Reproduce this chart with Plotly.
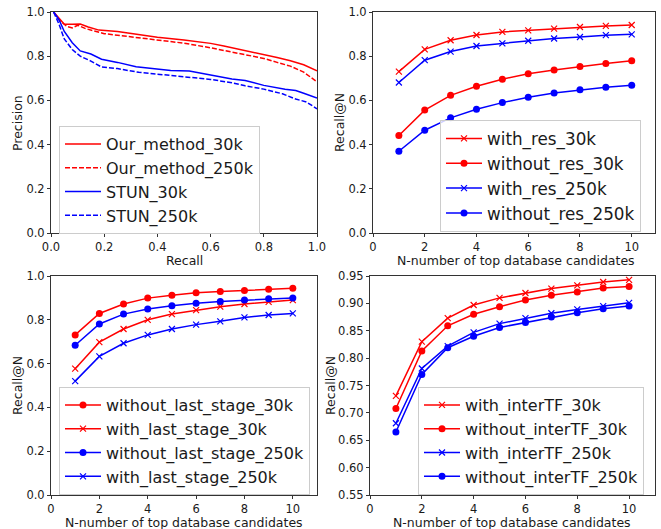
import plotly.graph_objects as go

# ---------------- data ----------------
# Panel 1: precision-recall curves
pr_ours30_r = [0.01, 0.03, 0.05, 0.08, 0.11, 0.14, 0.18, 0.25, 0.30, 0.35, 0.40, 0.50, 0.60, 0.65, 0.72, 0.80, 0.85, 0.90, 0.95, 1.00]
pr_ours30_p = [1.00, 0.97, 0.945, 0.945, 0.946, 0.932, 0.918, 0.912, 0.904, 0.893, 0.886, 0.873, 0.858, 0.846, 0.829, 0.809, 0.794, 0.779, 0.761, 0.734]
pr_ours250_r = [0.01, 0.03, 0.06, 0.08, 0.10, 0.13, 0.20, 0.30, 0.40, 0.50, 0.60, 0.70, 0.80, 0.85, 0.90, 0.95, 1.00]
pr_ours250_p = [1.00, 0.965, 0.934, 0.928, 0.940, 0.925, 0.902, 0.888, 0.871, 0.859, 0.838, 0.815, 0.790, 0.772, 0.755, 0.728, 0.684]
pr_stun30_r = [0.01, 0.03, 0.05, 0.08, 0.11, 0.15, 0.19, 0.25, 0.32, 0.40, 0.45, 0.52, 0.60, 0.68, 0.73, 0.80, 0.88, 0.92, 0.95, 1.00]
pr_stun30_p = [1.00, 0.965, 0.912, 0.861, 0.824, 0.810, 0.786, 0.772, 0.752, 0.743, 0.735, 0.733, 0.714, 0.697, 0.690, 0.668, 0.650, 0.645, 0.632, 0.611]
pr_stun250_r = [0.01, 0.03, 0.05, 0.08, 0.11, 0.15, 0.19, 0.25, 0.33, 0.40, 0.45, 0.52, 0.60, 0.68, 0.73, 0.80, 0.87, 0.92, 0.96, 1.00]
pr_stun250_p = [1.00, 0.945, 0.878, 0.830, 0.800, 0.778, 0.751, 0.744, 0.727, 0.719, 0.714, 0.705, 0.695, 0.680, 0.666, 0.651, 0.630, 0.606, 0.593, 0.562]

# Recall@N panels
N = [1, 2, 3, 4, 5, 6, 7, 8, 9, 10]

with_res_30k = [0.730, 0.831, 0.872, 0.896, 0.910, 0.917, 0.925, 0.932, 0.937, 0.941]
without_res_30k = [0.441, 0.556, 0.623, 0.664, 0.696, 0.721, 0.738, 0.753, 0.767, 0.779]
with_res_250k = [0.681, 0.782, 0.821, 0.846, 0.858, 0.870, 0.880, 0.887, 0.895, 0.899]
without_res_250k = [0.370, 0.465, 0.521, 0.560, 0.590, 0.614, 0.633, 0.648, 0.660, 0.669]

without_last_30k = [0.731, 0.829, 0.872, 0.899, 0.912, 0.923, 0.929, 0.934, 0.940, 0.944]
with_last_30k = [0.577, 0.698, 0.758, 0.800, 0.826, 0.844, 0.860, 0.872, 0.882, 0.890]
without_last_250k = [0.684, 0.781, 0.826, 0.849, 0.864, 0.876, 0.884, 0.890, 0.896, 0.900]
with_last_250k = [0.520, 0.633, 0.693, 0.731, 0.758, 0.778, 0.793, 0.811, 0.822, 0.829]

with_itf_30k = [0.731, 0.830, 0.873, 0.897, 0.910, 0.919, 0.927, 0.933, 0.939, 0.943]
without_itf_30k = [0.708, 0.813, 0.859, 0.880, 0.894, 0.906, 0.915, 0.921, 0.928, 0.931]
with_itf_250k = [0.681, 0.781, 0.822, 0.847, 0.863, 0.873, 0.882, 0.889, 0.895, 0.901]
without_itf_250k = [0.665, 0.770, 0.819, 0.840, 0.856, 0.865, 0.875, 0.883, 0.890, 0.895]

xlab_pr = "Recall"
ylab_pr = "Precision"
xlab_n = "N-number of top database candidates"
ylab_n = "Recall@N"

RED = "#ff0000"
BLUE = "#0000ff"
FONT = "DejaVu Sans"
TXT = "#1a1a1a"

W, H = 661, 529

def fx(p):
    return p / W

def fy(p):
    return 1 - p / H

fig = go.Figure()

def line(x, y, name, color, dash="solid", marker=None, xa="x", ya="y", legend="legend"):
    kw = dict(x=x, y=y, name=name, xaxis=xa, yaxis=ya, legend=legend,
              line=dict(color=color, width=1.5, dash=dash))
    if marker is None:
        kw["mode"] = "lines"
    elif marker == "x":
        kw["mode"] = "lines+markers"
        kw["marker"] = dict(symbol="x-thin", size=6, line=dict(color=color, width=1.2), color=color)
    else:
        kw["mode"] = "lines+markers"
        kw["marker"] = dict(symbol="circle", size=7, color=color)
    fig.add_trace(go.Scatter(**kw))

# Panel 1
line(pr_ours30_r, pr_ours30_p, "Our_method_30k", RED)
line(pr_ours250_r, pr_ours250_p, "Our_method_250k", RED, dash="5px,2px")
line(pr_stun30_r, pr_stun30_p, "STUN_30k", BLUE)
line(pr_stun250_r, pr_stun250_p, "STUN_250k", BLUE, dash="5px,2px")

# Panel 2
line(N, with_res_30k, "with_res_30k", RED, marker="x", xa="x2", ya="y2", legend="legend2")
line(N, without_res_30k, "without_res_30k", RED, marker="o", xa="x2", ya="y2", legend="legend2")
line(N, with_res_250k, "with_res_250k", BLUE, marker="x", xa="x2", ya="y2", legend="legend2")
line(N, without_res_250k, "without_res_250k", BLUE, marker="o", xa="x2", ya="y2", legend="legend2")

# Panel 3
line(N, without_last_30k, "without_last_stage_30k", RED, marker="o", xa="x3", ya="y3", legend="legend3")
line(N, with_last_30k, "with_last_stage_30k", RED, marker="x", xa="x3", ya="y3", legend="legend3")
line(N, without_last_250k, "without_last_stage_250k", BLUE, marker="o", xa="x3", ya="y3", legend="legend3")
line(N, with_last_250k, "with_last_stage_250k", BLUE, marker="x", xa="x3", ya="y3", legend="legend3")

# Panel 4
line(N, with_itf_30k, "with_interTF_30k", RED, marker="x", xa="x4", ya="y4", legend="legend4")
line(N, without_itf_30k, "without_interTF_30k", RED, marker="o", xa="x4", ya="y4", legend="legend4")
line(N, with_itf_250k, "with_interTF_250k", BLUE, marker="x", xa="x4", ya="y4", legend="legend4")
line(N, without_itf_250k, "without_interTF_250k", BLUE, marker="o", xa="x4", ya="y4", legend="legend4")

def ax(domain, rng, dtick, anchor, tickformat=None, tick0=0):
    d = dict(domain=domain, range=rng, dtick=dtick, tick0=tick0, showgrid=False, zeroline=False,
             showline=True, mirror=True, linecolor="#333333", linewidth=1,
             ticks="outside", ticklen=3, tickcolor="#333333", tickwidth=1,
             tickfont=dict(family=FONT, size=11.5, color=TXT), ticklabeloverflow="allow",
             anchor=anchor, automargin=False, fixedrange=True)
    if tickformat:
        d["tickformat"] = tickformat
    return d

xd1 = [fx(51), fx(317)]
xd2 = [fx(373), fx(655)]
xd3 = [fx(51), fx(317)]
xd4 = [fx(370), fx(655)]
yd_top = [fy(233), fy(12)]
yd_bot = [fy(495), fy(276)]

def legend_cfg(x0, y0, size):
    return dict(x=fx(x0), y=fy(y0), xanchor="left", yanchor="top",
                bgcolor="rgba(255,255,255,0.8)", bordercolor="#cccccc", borderwidth=1,
                font=dict(family=FONT, size=size, color=TXT), itemwidth=36,
                tracegroupgap=0)

def title_ann(text, px, py, angle=0):
    return dict(text=text, x=fx(px), y=fy(py), xref="paper", yref="paper",
                xanchor="center", yanchor="middle", showarrow=False, textangle=angle,
                font=dict(family=FONT, size=12.5, color=TXT))

annotations = [
    title_ann(xlab_pr, 184, 260),
    title_ann(ylab_pr, 17, 123, -90),
    title_ann(xlab_n, 516, 260),
    title_ann(ylab_n, 339, 123, -90),
    title_ann(xlab_n, 184, 522.5),
    title_ann(ylab_n, 17, 386, -90),
    title_ann(xlab_n, 512, 522.5),
    title_ann(ylab_n, 330, 386, -90),
]

fig.update_layout(
    width=W, height=H,
    margin=dict(l=0, r=0, t=0, b=0),
    paper_bgcolor="white", plot_bgcolor="white",
    showlegend=True,
    xaxis=ax(xd1, [0, 1], 0.2, "y", ".1f"),
    yaxis=ax(yd_top, [0, 1], 0.2, "x", ".1f"),
    xaxis2=ax(xd2, [0, 10.9], 2, "y2"),
    yaxis2=ax(yd_top, [0, 1], 0.2, "x2", ".1f"),
    xaxis3=ax(xd3, [0, 11], 2, "y3"),
    yaxis3=ax(yd_bot, [0, 1], 0.2, "x3", ".1f"),
    xaxis4=ax(xd4, [0, 11], 2, "y4"),
    yaxis4=ax(yd_bot, [0.55, 0.95], 0.05, "x4", ".2f", tick0=0.55),
    legend=legend_cfg(59, 126, 16),
    legend2=legend_cfg(440, 120, 16.8),
    legend3=legend_cfg(59, 387, 16),
    legend4=legend_cfg(418, 387, 16),
    annotations=annotations,
)

fig.write_html("out.html", config={"displayModeBar": False},
               post_script="document.body.style.margin='0px';")
